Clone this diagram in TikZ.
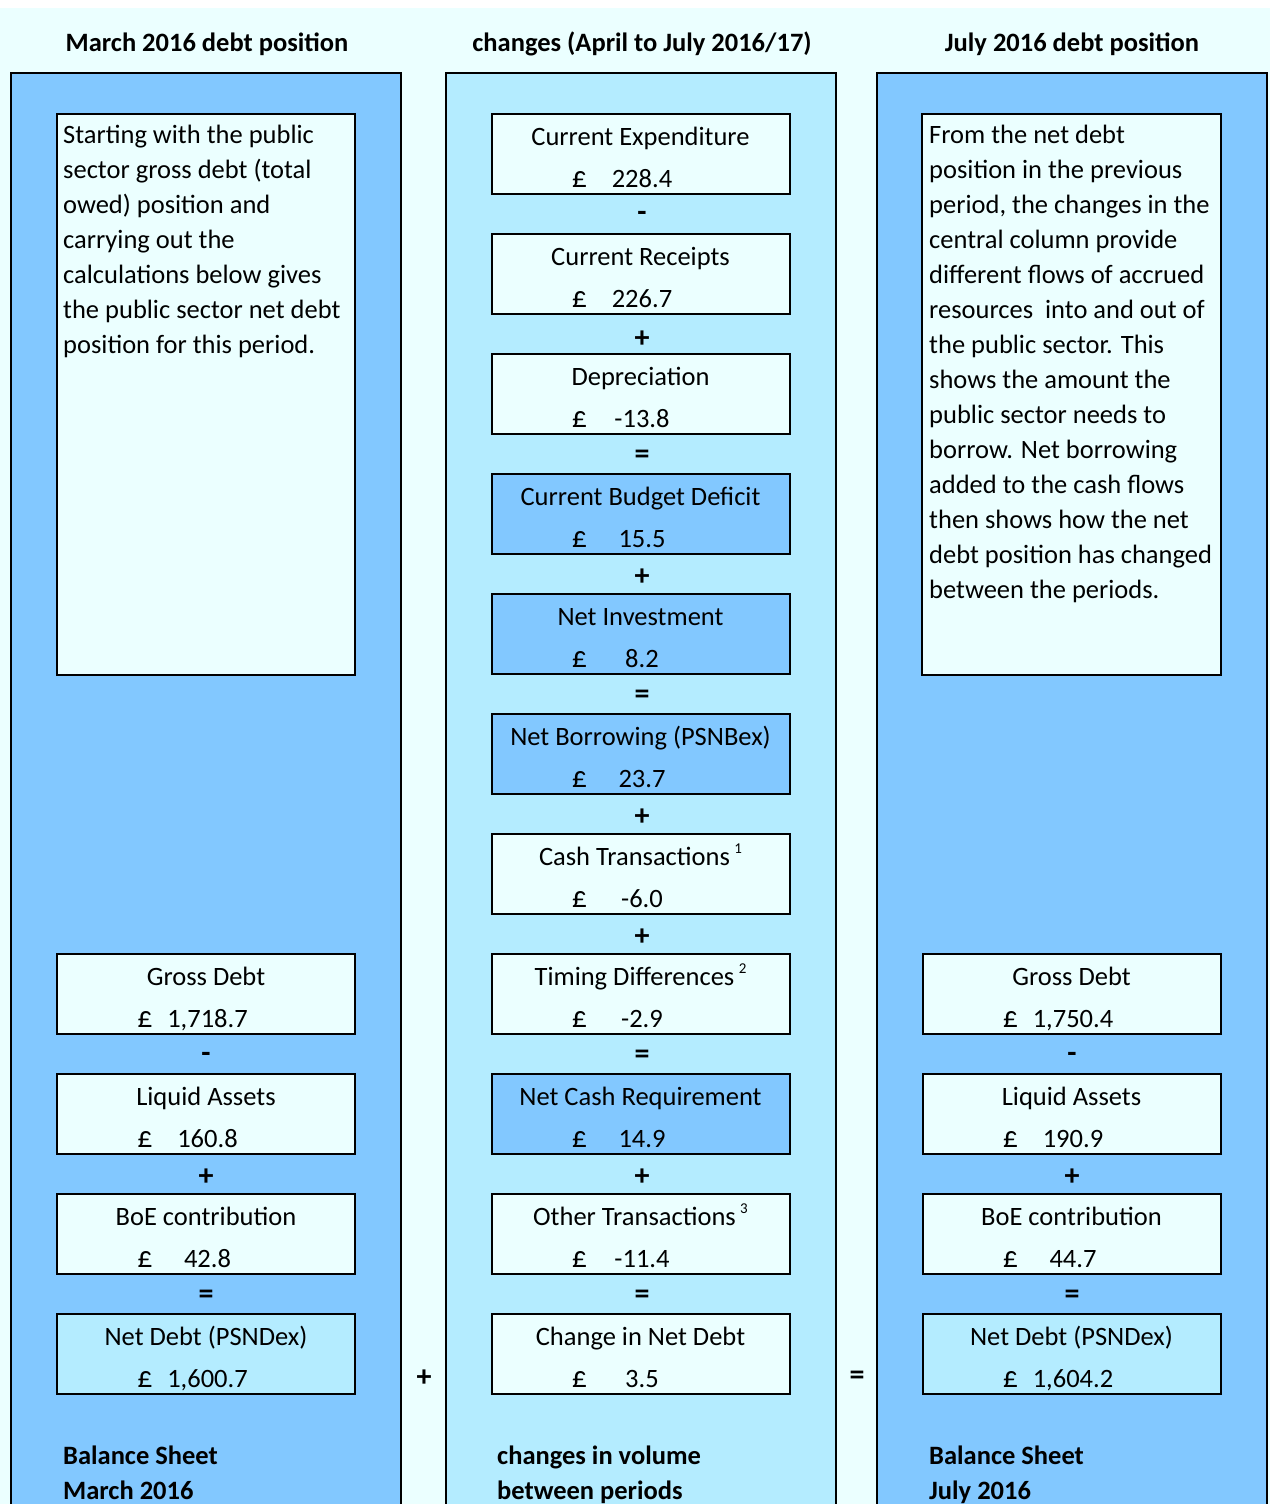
\documentclass[tikz,border=0pt]{standalone}
\usepackage{fontspec}
\setmainfont{Carlito}
\usetikzlibrary{calc}
\definecolor{bgcyan}{RGB}{235,255,255}
\definecolor{colblue}{RGB}{130,200,255}
\definecolor{midblue}{RGB}{180,236,255}
\definecolor{pale}{RGB}{235,255,255}
\newcommand\mkbox[6]{%
  \node[#2] (#1) at (#3,#4+40) {};
  \node[txt, anchor=base] (#1t) at ($(#1.north)+(0,32)$) {#5};
  \node[txt, anchor=base] (#1v) at ($(#1.north)+(1.5,74)$) {#6};
  \node[txt, anchor=base, font=\fontsize{30}{30}\selectfont] (#1p) at ($(#1.north)+(-61,74)$) {£};
}
\newcommand\supn[1]{\,{\fontsize{15}{15}\selectfont\raisebox{12pt}{#1}}}
\begin{document}
\begin{tikzpicture}[x=1pt,y=-1pt,
  txt/.style={font=\fontsize{26.5}{30}\selectfont, inner sep=0pt},
  hdr/.style={font=\fontsize{26.5}{30}\selectfont\bfseries, inner sep=0pt},
  opn/.style={font=\fontsize{30}{34}\selectfont\bfseries, inner sep=0pt},
  plainbox/.style={draw=black, line width=2pt, fill=pale, minimum width=298pt, minimum height=80pt, inner sep=0pt},
  hibox/.style={plainbox, fill=colblue},
  ndbox/.style={plainbox, fill=midblue},
  colframe/.style={draw=black, line width=2pt}]
\useasboundingbox (0,0) rectangle (1270,1504);
\fill[white] (0,0) rectangle (1270,8);
\fill[bgcyan] (0,8) rectangle (1270,1504);
% columns
\fill[colblue] (11,73) rectangle (401,1510);
\draw[colframe] (11,1510) -- (11,73) -- (401,73) -- (401,1510);
\fill[midblue] (446,73) rectangle (836,1510);
\draw[colframe] (446,1510) -- (446,73) -- (836,73) -- (836,1510);
\fill[colblue] (877,73) rectangle (1267,1510);
\draw[colframe] (877,1510) -- (877,73) -- (1267,73) -- (1267,1510);
% headers
\node[hdr, anchor=base] (h1) at (207,52) {March 2016 debt position};
\node[hdr, anchor=base] (h2) at (642,52) {changes (April to July 2016/17)};
\node[hdr, anchor=base] (h3) at (1072,52) {July 2016 debt position};
% text boxes
\node[draw=black, line width=2pt, fill=pale, minimum width=298pt, minimum height=561pt, inner sep=0pt] (ltb) at (206,394.5) {};
\node[draw=black, line width=2pt, fill=pale, minimum width=299pt, minimum height=561pt, inner sep=0pt] (rtb) at (1071.5,394.5) {};
\foreach \t [count=\i] in {Starting with the public, sector gross debt (total, owed) position and, carrying out the, calculations below gives, the public sector net debt, position for this period.}
  \node[txt, anchor=base west] (lt\i) at (63,143+35*\i-35) {\t};
\foreach \t [count=\i] in {From the net debt, position in the previous, {period, the changes in the}, central column provide, different flows of accrued, resources\ \ into and out of, the public sector. This, shows the amount the, public sector needs to, borrow. Net borrowing, added to the cash flows, then shows how the net, debt position has changed, between the periods.}
  \node[txt, anchor=base west] (rt\i) at (929,143+35*\i-35) {\t};
% middle column
\mkbox{m1}{plainbox}{640.5}{114}{Current Expenditure}{228.4}
\mkbox{m2}{plainbox}{640.5}{234}{Current Receipts}{226.7}
\mkbox{m3}{plainbox}{640.5}{354}{Depreciation}{-13.8}
\mkbox{m4}{hibox}{640.5}{474}{Current Budget Deficit}{15.5}
\mkbox{m5}{hibox}{640.5}{594}{Net Investment}{8.2}
\mkbox{m6}{hibox}{640.5}{714}{Net Borrowing (PSNBex)}{23.7}
\mkbox{m7}{plainbox}{640.5}{834}{Cash Transactions\supn{1}}{-6.0}
\mkbox{m8}{plainbox}{640.5}{954}{Timing Differences\supn{2}}{-2.9}
\mkbox{m9}{hibox}{640.5}{1074}{Net Cash Requirement}{14.9}
\mkbox{m10}{plainbox}{640.5}{1194}{Other Transactions\supn{3}}{-11.4}
\mkbox{m11}{plainbox}{640.5}{1314}{Change in Net Debt}{3.5}
\node[opn] (mo1) at (642,216) {-};
\node[opn] (mo2) at (642,339) {+};
\node[opn] (mo3) at (642,457) {=};
\node[opn] (mo4) at (642,577) {+};
\node[opn] (mo5) at (642,697) {=};
\node[opn] (mo6) at (642,817) {+};
\node[opn] (mo7) at (642,937) {+};
\node[opn] (mo8) at (642,1057) {=};
\node[opn] (mo9) at (642,1177) {+};
\node[opn] (mo10) at (642,1297) {=};
% left column
\mkbox{l1}{plainbox}{206}{954}{Gross Debt}{1,718.7}
\mkbox{l2}{plainbox}{206}{1074}{Liquid Assets}{160.8}
\mkbox{l3}{plainbox}{206}{1194}{BoE contribution}{42.8}
\mkbox{l4}{ndbox}{206}{1314}{Net Debt (PSNDex)}{1,600.7}
\node[opn] (lo1) at (206,1057) {-};
\node[opn] (lo2) at (206,1177) {+};
\node[opn] (lo3) at (206,1297) {=};
% right column
\mkbox{r1}{plainbox}{1071.5}{954}{Gross Debt}{1,750.4}
\mkbox{r2}{plainbox}{1071.5}{1074}{Liquid Assets}{190.9}
\mkbox{r3}{plainbox}{1071.5}{1194}{BoE contribution}{44.7}
\mkbox{r4}{ndbox}{1071.5}{1314}{Net Debt (PSNDex)}{1,604.2}
\node[opn] (ro1) at (1072,1057) {-};
\node[opn] (ro2) at (1072,1177) {+};
\node[opn] (ro3) at (1072,1297) {=};
% between columns
\node[opn] (plusmid) at (424,1378) {+};
\node[opn] (eqmid) at (857,1378) {=};
% bottom labels
\node[hdr, anchor=base west] (lb1) at (63,1464) {Balance Sheet};
\node[hdr, anchor=base west] (lb2) at (63,1499) {March 2016};
\node[hdr, anchor=base west] (mb1) at (497,1464) {changes in volume};
\node[hdr, anchor=base west] (mb2) at (497,1499) {between periods};
\node[hdr, anchor=base west] (rb1) at (929,1464) {Balance Sheet};
\node[hdr, anchor=base west] (rb2) at (929,1499) {July 2016};
\end{tikzpicture}
\end{document}
